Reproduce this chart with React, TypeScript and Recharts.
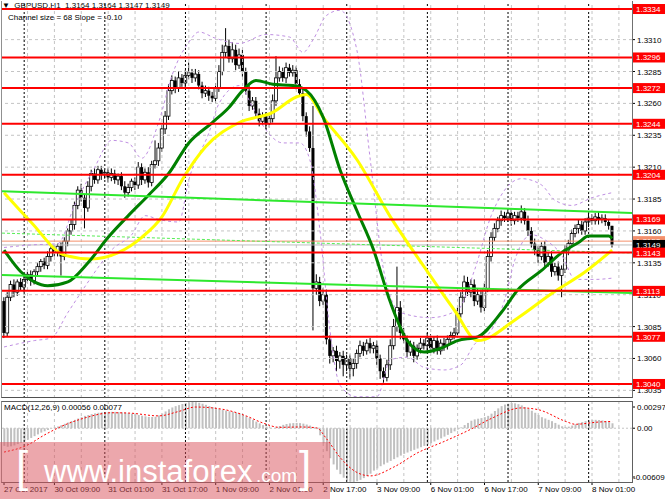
import React from 'react';
import { ComposedChart, Bar, Line, XAxis, YAxis, ReferenceLine } from 'recharts';

// GBPUSD H1, 27 Oct 2017 18:00 .. 8 Nov 2017 07:00 (bar index 0..181)
const PIP = 0.0001;
const firstOpen = 1.3105;
const closes = [
  1.3080, 1.3108, 1.3118, 1.3112, 1.3120, 1.3116, 1.3122, 1.3126, 1.3121, 1.3128,
  1.3132, 1.3136, 1.3133, 1.3140, 1.3146, 1.3143, 1.3148, 1.3140, 1.3152, 1.3160,
  1.3165, 1.3180, 1.3192, 1.3186, 1.3178, 1.3195, 1.3205, 1.3200, 1.3208, 1.3204,
  1.3206, 1.3202, 1.3205, 1.3200, 1.3203, 1.3195, 1.3190, 1.3194, 1.3199, 1.3196,
  1.3210, 1.3200, 1.3206, 1.3198, 1.3212, 1.3215, 1.3225, 1.3240, 1.3250, 1.3270,
  1.3278, 1.3272, 1.3280, 1.3276, 1.3282, 1.3284, 1.3280, 1.3283, 1.3274, 1.3268,
  1.3270, 1.3266, 1.3264, 1.3272, 1.3285, 1.3300, 1.3305, 1.3295, 1.3302, 1.3290,
  1.3298, 1.3285, 1.3270, 1.3258, 1.3262, 1.3252, 1.3246, 1.3250, 1.3244, 1.3248,
  1.3262, 1.3280, 1.3285, 1.3280, 1.3288, 1.3284, 1.3286, 1.3275, 1.3268, 1.3250,
  1.3238, 1.3225, 1.3115, 1.3120, 1.3105, 1.3110, 1.3075, 1.3062, 1.3066, 1.3058,
  1.3062, 1.3055, 1.3060, 1.3052, 1.3056, 1.3064, 1.3070, 1.3066, 1.3072, 1.3068,
  1.3070, 1.3060, 1.3050, 1.3045, 1.3055, 1.3070, 1.3085, 1.3100, 1.3080, 1.3075,
  1.3065, 1.3070, 1.3062, 1.3068, 1.3072, 1.3070, 1.3076, 1.3068, 1.3074, 1.3066,
  1.3072, 1.3070, 1.3075, 1.3078, 1.3080, 1.3095, 1.3108, 1.3120, 1.3112, 1.3118,
  1.3105, 1.3110, 1.3100, 1.3115, 1.3140, 1.3155, 1.3162, 1.3168, 1.3172, 1.3170,
  1.3174, 1.3168, 1.3172, 1.3170, 1.3175, 1.3168, 1.3160, 1.3150, 1.3145, 1.3140,
  1.3148, 1.3135, 1.3140, 1.3128, 1.3132, 1.3125, 1.3130, 1.3145, 1.3150, 1.3158,
  1.3162, 1.3165, 1.3160, 1.3167, 1.3170, 1.3168, 1.3171, 1.3169, 1.3170, 1.3167,
  1.3164, 1.3149,
];
// wick lengths in pips above / below the body
const wickUp = [
  3, 4, 3, 4, 2, 3, 3, 2, 3, 2, 3, 2, 3, 4, 2, 3, 2, 3, 3, 2,
  4, 3, 3, 5, 3, 4, 3, 4, 3, 3, 2, 3, 4, 3, 2, 3, 4, 3, 2, 3,
  4, 3, 3, 4, 3, 16, 4, 3, 4, 5, 4, 3, 5, 3, 4, 8, 3, 4, 3, 3,
  4, 3, 3, 4, 5, 6, 14, 5, 6, 4, 5, 4, 3, 4, 3, 3, 4, 3, 3, 4,
  5, 17, 4, 3, 4, 3, 4, 3, 4, 3, 3, 4, 33, 6, 4, 5, 4, 3, 3, 4,
  3, 4, 3, 3, 4, 3, 4, 3, 3, 4, 3, 4, 3, 3, 4, 5, 6, 32, 5, 4,
  3, 4, 3, 3, 4, 3, 4, 3, 3, 4, 3, 4, 3, 3, 4, 5, 4, 5, 4, 4,
  4, 5, 4, 4, 5, 4, 4, 3, 4, 3, 3, 4, 3, 3, 5, 3, 4, 3, 4, 3,
  3, 4, 3, 4, 3, 4, 3, 4, 3, 3, 3, 4, 3, 3, 4, 3, 3, 4, 3, 3,
  2, 0,
];
const wickDn = [
  4, 3, 3, 4, 3, 3, 4, 3, 4, 3, 3, 4, 3, 3, 4, 3, 3, 15, 3, 4,
  3, 4, 3, 3, 16, 3, 4, 3, 3, 4, 3, 4, 3, 3, 4, 3, 4, 3, 3, 4,
  3, 4, 3, 4, 3, 3, 4, 3, 4, 3, 3, 4, 3, 3, 4, 3, 4, 3, 3, 4,
  3, 4, 3, 4, 3, 3, 4, 3, 3, 4, 3, 4, 3, 4, 3, 3, 4, 3, 4, 3,
  3, 4, 3, 3, 4, 3, 3, 4, 3, 4, 4, 3, 33, 5, 4, 3, 4, 6, 5, 8,
  6, 9, 5, 8, 6, 4, 3, 4, 3, 4, 4, 5, 6, 4, 3, 4, 3, 4, 5, 3,
  4, 3, 5, 3, 4, 3, 4, 3, 4, 3, 3, 4, 3, 3, 3, 4, 3, 4, 3, 4,
  4, 3, 4, 3, 3, 4, 3, 3, 4, 3, 3, 4, 3, 3, 4, 3, 4, 3, 4, 5,
  3, 4, 3, 4, 3, 4, 17, 3, 4, 3, 3, 4, 3, 3, 4, 3, 3, 4, 3, 3,
  3, 2,
];

// indicator readings: [bar, price]
const maSlow = [
  [0, 1.3190], [8, 1.3167], [18, 1.3141], [26, 1.3138], [34, 1.3143], [41, 1.3155],
  [47, 1.3171], [53, 1.3200], [60, 1.3226], [70, 1.3245], [80, 1.3253], [87, 1.3265],
  [90, 1.3267], [95, 1.3249], [105, 1.3216], [115, 1.3171], [125, 1.3132], [134, 1.3098],
  [141, 1.3074], [153, 1.3092], [163, 1.3111], [173, 1.3128], [181, 1.3145],
];
const maFast = [
  [0, 1.3145], [5, 1.3128], [9, 1.3120], [13, 1.3117], [19, 1.3120], [25, 1.3135],
  [31, 1.3155], [37, 1.3172], [43, 1.3188], [49, 1.3205], [55, 1.3229], [62, 1.3245],
  [67, 1.3257], [71, 1.3270], [75, 1.3278], [80, 1.3275], [86, 1.3274], [90, 1.3270],
  [95, 1.3249], [100, 1.3208], [105, 1.3176], [110, 1.3145], [115, 1.3104], [120, 1.3074],
  [125, 1.3065], [130, 1.3068], [135, 1.3074], [141, 1.3077], [148, 1.3096], [153, 1.3114],
  [160, 1.3129], [166, 1.3143], [171, 1.3151], [174, 1.3156], [180, 1.3156], [181, 1.3154],
];
const bandUpper = [
  [0, 1.3147], [8, 1.3149], [16, 1.3150], [21, 1.3180], [27, 1.3210], [32, 1.3231],
  [37, 1.3229], [41, 1.3217], [46, 1.3245], [50, 1.3282], [55, 1.3308], [58, 1.3316],
  [63, 1.3311], [70, 1.3307], [78, 1.3314], [85, 1.3312], [89, 1.3300], [92, 1.3310],
  [96, 1.3329], [100, 1.3333], [105, 1.3302], [109, 1.3216], [113, 1.3129], [118, 1.3096],
  [127, 1.3092], [135, 1.3098], [140, 1.3129], [145, 1.3172], [149, 1.3192], [154, 1.3201],
  [160, 1.3196], [164, 1.3184], [169, 1.3180], [175, 1.3186], [181, 1.3190],
];
const bandLower = [
  [0, 1.3069], [9, 1.3074], [14, 1.3076], [19, 1.3096], [24, 1.3116], [29, 1.3135],
  [32, 1.3145], [38, 1.3157], [42, 1.3172], [46, 1.3169], [52, 1.3167], [55, 1.3200],
  [61, 1.3237], [64, 1.3260], [70, 1.3274], [74, 1.3257], [78, 1.3239], [83, 1.3229],
  [88, 1.3229], [91, 1.3216], [94, 1.3161], [97, 1.3082], [100, 1.3039], [105, 1.3030],
  [111, 1.3030], [115, 1.3059], [120, 1.3061], [125, 1.3053], [131, 1.3051], [136, 1.3055],
  [140, 1.3071], [145, 1.3082], [149, 1.3106], [152, 1.3137], [157, 1.3157], [161, 1.3153],
  [166, 1.3141], [170, 1.3122], [176, 1.3122], [181, 1.3123],
];

// MACD(12,26,9) in units of 0.00001
const macdHist = [
  -200, -210, -205, -195, -180, -165, -150, -130, -110, -90,
  -70, -50, -35, -20, -5, 10, 20, 35, 50, 65,
  80, 95, 110, 125, 140, 150, 160, 168, 175, 180,
  183, 185, 186, 185, 183, 180, 177, 172, 165, 158,
  150, 142, 135, 128, 127, 130, 145, 165, 190, 215,
  235, 250, 262, 275, 285, 292, 297, 295, 288, 278,
  265, 252, 240, 228, 218, 208, 200, 192, 185, 178,
  170, 155, 135, 115, 95, 75, 55, 35, 18, 5,
  0, 10, 25, 38, 48, 55, 58, 60, 58, 52,
  42, 30, 15, -10, -80, -170, -260, -340, -410, -470,
  -520, -560, -590, -605, -609, -600, -585, -565, -540, -515,
  -480, -455, -430, -410, -390, -370, -350, -330, -310, -290,
  -275, -260, -245, -230, -215, -200, -185, -170, -150, -130,
  -115, -95, -75, -55, -35, -15, 10, 36, 60, 85,
  100, 108, 115, 125, 140, 165, 195, 225, 250, 268,
  278, 285, 282, 272, 258, 240, 220, 198, 175, 150,
  125, 110, 95, 80, 60, 40, 22, 14, 18, 30,
  45, 60, 70, 80, 88, 93, 95, 93, 88, 80,
  70, 56,
];
const macdSignal = [
  [0, -270], [7, -190], [12, -77], [18, 36], [24, 116], [32, 175], [37, 172], [46, 140],
  [52, 190], [57, 240], [65, 215], [72, 140], [77, 60], [82, 10], [88, 14], [93, 5],
  [96, -120], [100, -330], [105, -500], [109, -540], [116, -440], [123, -280], [131, -150],
  [139, -10], [145, 110], [154, 230], [159, 210], [167, 80], [170, 45], [177, 70], [181, 77],
];

const levels = [1.3334, 1.3296, 1.3272, 1.3244, 1.3204, 1.3169, 1.3143, 1.3113, 1.3077, 1.3040];
const priceTicks = [1.3035, 1.3060, 1.3085, 1.3110, 1.3135, 1.3160, 1.3185, 1.3210, 1.3235, 1.3260, 1.3285, 1.3310];
const askPrice = 1.3152;
const bidPrice = 1.3149;
const channelUpper = [1.31911, 1.31741];
const channelMid = [1.31583, 1.31427];
const channelLower = [1.31255, 1.31113];

const timeLabels = ['27 Oct 2017', '30 Oct 09:00', '31 Oct 01:00', '31 Oct 17:00', '1 Nov 09:00', '2 Nov 01:00',
  '2 Nov 17:00', '3 Nov 09:00', '6 Nov 01:00', '6 Nov 17:00', '7 Nov 09:00', '8 Nov 01:00'];
const timeLabelBars = [0, 15, 31, 47, 63, 79, 95, 111, 127, 143, 159, 175];
const gridBars = [-1, 7, 15, 23, 31, 39, 47, 55, 63, 71, 79, 87, 95, 103, 111, 119, 127, 135, 143, 151, 159, 167, 175, 183];
const daySeparators = [6, 30, 54, 78, 102, 126, 150, 174];
const macdTicks = [0.00297, 0, -0.00609];

const X_DOMAIN = [-0.6, 186.9];
const PRICE_DOMAIN = [1.3029, 1.33395];
const FONT = '"Liberation Sans", Arial, sans-serif';

const rows = closes.map((c, i) => {
  const open = i === 0 ? firstOpen : closes[i - 1];
  return {
    i,
    open,
    close: c,
    high: Math.max(open, c) + wickUp[i] * PIP,
    low: Math.min(open, c) - wickDn[i] * PIP,
    slow: null as number | null,
    fast: null as number | null,
    bbUp: null as number | null,
    bbLo: null as number | null,
  };
});
maSlow.forEach(([b, v]) => { rows[b].slow = v; });
maFast.forEach(([b, v]) => { rows[b].fast = v; });
bandUpper.forEach(([b, v]) => { rows[b].bbUp = v; });
bandLower.forEach(([b, v]) => { rows[b].bbLo = v; });

const macdRows = macdHist.map((h, i) => ({ i, hist: h / 100000, signal: null as number | null }));
macdSignal.forEach(([b, v]) => { macdRows[b].signal = v / 100000; });

function Candle(props: any) {
  const { x, y, width, height, payload } = props;
  if (!payload) return null;
  const { open, close, high, low } = payload;
  const top = Math.min(y, y + height);
  const h = Math.abs(height);
  const k = high > low ? h / (high - low) : 0;
  const cx = x + width / 2;
  const bTop = top + (high - Math.max(open, close)) * k;
  const bBot = top + (high - Math.min(open, close)) * k;
  const up = close >= open;
  return (
    <g>
      <line x1={cx} x2={cx} y1={top} y2={top + h} stroke="#000" strokeWidth={1} />
      <rect x={cx - 1.5} y={bTop} width={3} height={Math.max(bBot - bTop, 1)}
        fill={up ? '#fff' : '#000'} stroke="#000" strokeWidth={up ? 0.8 : 0} />
    </g>
  );
}

function PriceTick(props: any) {
  const { x, y, payload } = props;
  const v = payload.value;
  const txt = v.toFixed(4);
  let fill = '';
  if (levels.includes(v)) fill = '#FF0000';
  else if (v === bidPrice) fill = '#000';
  else if (v === askPrice) fill = '#F4906C';
  if (fill) {
    return (
      <g>
        <rect x={x - 4} y={y - 5} width={40} height={10} fill={fill} />
        <text x={x - 1} y={y + 3} fontSize={8} fontFamily={FONT} fill="#fff">{txt}</text>
      </g>
    );
  }
  return (
    <g>
      <line x1={x - 5} x2={x - 2} y1={y} y2={y} stroke="#000" />
      <text x={x} y={y + 3} fontSize={8} fontFamily={FONT} fill="#000">{txt}</text>
    </g>
  );
}

function MacdTick(props: any) {
  const { x, y, payload } = props;
  const v = payload.value;
  const txt = v === 0 ? '0.00' : v.toFixed(5);
  const dy = v > 0 ? 5 : v < 0 ? -5 : 0;
  const dx = v < 0 ? -4 : 0;
  return (
    <g>
      <line x1={x - 5} x2={x - 2} y1={y + dy} y2={y + dy} stroke="#000" />
      <text x={x + dx} y={y + dy + 3} fontSize={8} fontFamily={FONT} fill="#000">{txt}</text>
    </g>
  );
}

function TimeTick(props: any) {
  const { x, y, payload } = props;
  const idx = timeLabelBars.indexOf(payload.value);
  return (
    <text x={x} y={y + 6} fontSize={8} fontFamily={FONT} fill="#000" textAnchor="start">
      {timeLabels[idx]}
    </text>
  );
}

const gridStroke = '#C4C4C4';
const bandStroke = '#BF8FE2';

export default function App() {
  return (
    <div style={{ position: 'absolute', left: 0, top: 0, width: 665, height: 499, background: '#fff', overflow: 'hidden', fontFamily: FONT }}>
      <div style={{ position: 'absolute', left: 2, top: 1, fontSize: 8, lineHeight: '10px', whiteSpace: 'pre', color: '#000' }}>
        {'▼  GBPUSD,H1  1.3164 1.3164 1.3147 1.3149'}
      </div>
      <div style={{ position: 'absolute', left: 8, top: 13, fontSize: 8, lineHeight: '10px', whiteSpace: 'pre', color: '#000' }}>
        {'Channel size = 68 Slope = -0.10'}
      </div>

      <div style={{ position: 'absolute', left: 0, top: 0 }}>
        <ComposedChart width={665} height={400} data={rows} margin={{ top: 2, right: 0, bottom: 2, left: 2 }}>
          <XAxis type="number" dataKey="i" domain={X_DOMAIN} hide allowDataOverflow />
          <YAxis orientation="right" width={33} domain={PRICE_DOMAIN} allowDataOverflow
            ticks={[...priceTicks, askPrice, bidPrice, ...levels]} interval={0}
            tick={(p: any) => <PriceTick {...p} />} tickLine={false} axisLine={false} tickSize={3} tickMargin={2} />
          {priceTicks.map((t) => (
            <ReferenceLine key={'h' + t} y={t} stroke={gridStroke} strokeDasharray="3 3" />
          ))}
          {gridBars.map((b) => (
            <ReferenceLine key={'v' + b} x={b} stroke={gridStroke} strokeDasharray="3 3" ifOverflow="hidden" />
          ))}
          {daySeparators.map((b) => (
            <ReferenceLine key={'d' + b} x={b} stroke="#000" strokeDasharray="2 2" />
          ))}
          <ReferenceLine y={askPrice} stroke="#F4906C" />
          <ReferenceLine y={bidPrice} stroke="#BDBDBD" />
          <ReferenceLine segment={[{ x: X_DOMAIN[0], y: channelMid[0] }, { x: X_DOMAIN[1], y: channelMid[1] }]}
            stroke="#55EE55" strokeDasharray="3 2" />
          <Line dataKey="bbUp" stroke={bandStroke} strokeDasharray="3 3" strokeWidth={1} dot={false}
            connectNulls type="monotone" isAnimationActive={false} />
          <Line dataKey="bbLo" stroke={bandStroke} strokeDasharray="3 3" strokeWidth={1} dot={false}
            connectNulls type="monotone" isAnimationActive={false} />
          <Bar dataKey={(d: any) => [d.low, d.high]} barSize={3} shape={(p: any) => <Candle {...p} />}
            isAnimationActive={false} />
          <Line dataKey="slow" stroke="#FFFF00" strokeWidth={3} dot={false}
            connectNulls type="monotone" isAnimationActive={false} />
          <Line dataKey="fast" stroke="#008000" strokeWidth={3} dot={false}
            connectNulls type="monotone" isAnimationActive={false} />
          <ReferenceLine segment={[{ x: X_DOMAIN[0], y: channelUpper[0] }, { x: X_DOMAIN[1], y: channelUpper[1] }]}
            stroke="#2EE82E" strokeWidth={2} />
          <ReferenceLine segment={[{ x: X_DOMAIN[0], y: channelLower[0] }, { x: X_DOMAIN[1], y: channelLower[1] }]}
            stroke="#2EE82E" strokeWidth={2} />
          {levels.map((lv) => (
            <ReferenceLine key={'l' + lv} y={lv} stroke="#FF0000" strokeWidth={2} />
          ))}
        </ComposedChart>
      </div>
      <div style={{ position: 'absolute', left: 1, top: 1, width: 630, height: 396, borderLeft: '1px solid #909090', borderRight: '1px solid #707070', borderBottom: '1px solid #505050', pointerEvents: 'none' }} />

      <div style={{ position: 'absolute', left: 0, top: 400 }}>
        <ComposedChart width={665} height={99} data={macdRows} margin={{ top: 2, right: 0, bottom: 0, left: 2 }}>
          <XAxis type="number" dataKey="i" domain={X_DOMAIN} allowDataOverflow ticks={timeLabelBars} interval={0}
            height={17} tickSize={3} tickMargin={1} tickLine={{ stroke: '#000' }} axisLine={false}
            tick={(p: any) => <TimeTick {...p} />} />
          <YAxis orientation="right" width={33} domain={[-0.00609, 0.00297]} allowDataOverflow
            ticks={macdTicks} interval={0} tick={(p: any) => <MacdTick {...p} />}
            tickLine={false} axisLine={false} tickSize={3} tickMargin={2} />
          {gridBars.map((b) => (
            <ReferenceLine key={'mv' + b} x={b} stroke={gridStroke} strokeDasharray="3 3" ifOverflow="hidden" />
          ))}
          {daySeparators.map((b) => (
            <ReferenceLine key={'md' + b} x={b} stroke="#000" strokeDasharray="2 2" />
          ))}
          <ReferenceLine y={0} stroke={gridStroke} strokeDasharray="2 2" />
          <Bar dataKey="hist" fill="#C0C0C0" barSize={2} isAnimationActive={false} />
          <Line dataKey="signal" stroke="#FF0000" strokeDasharray="2 2" strokeWidth={1} dot={false}
            connectNulls type="monotone" isAnimationActive={false} />
        </ComposedChart>
      </div>
      <div style={{ position: 'absolute', left: 1, top: 401, width: 630, height: 80, border: '1px solid #606060', borderLeftColor: '#909090', pointerEvents: 'none' }} />
      <div style={{ position: 'absolute', left: 4, top: 403, fontSize: 8, lineHeight: '10px', whiteSpace: 'pre', color: '#000' }}>
        {'MACD(12,26,9) 0.00056 0.00077'}
      </div>

      <svg style={{ position: 'absolute', left: 0, top: 442 }} width={330} height={57}>
        <rect x={0} y={0} width={330} height={57} fill="#D9505A" fillOpacity={0.5} />
        <text x={16} y={40} fontSize={44} fontFamily={FONT} fill="#fff">[</text>
        <text x={44} y={40} fontSize={31} fontFamily={FONT} fill="#fff">www.instaforex</text>
        <text x={256} y={40} fontSize={19} fontFamily={FONT} fill="#fff">.com</text>
        <text x={299} y={40} fontSize={44} fontFamily={FONT} fill="#fff">]</text>
      </svg>
    </div>
  );
}
